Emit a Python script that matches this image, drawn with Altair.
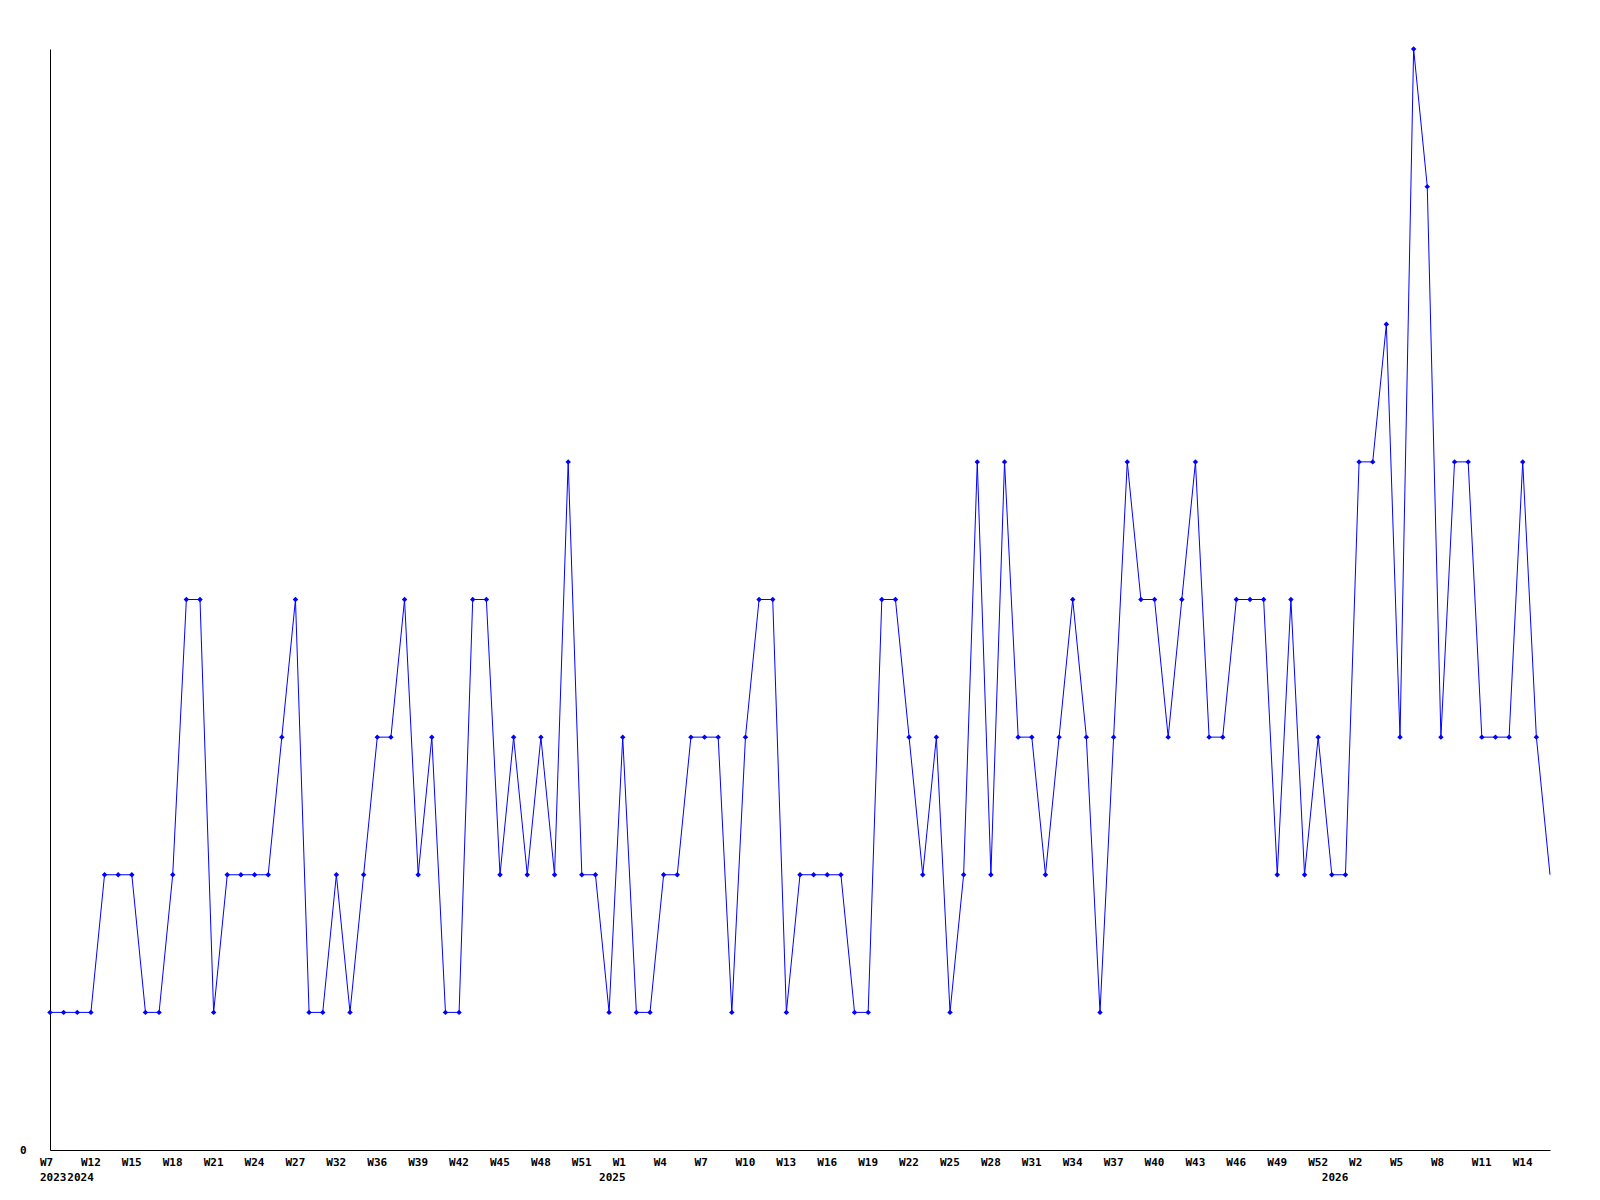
import altair as alt
import pandas as pd

# weekly counts, one value per point (left to right)
values = [
    1, 1, 1, 1, 2, 2, 2, 1, 1, 2,
    4, 4, 1, 2, 2, 2, 2, 3, 4, 1,
    1, 2, 1, 2, 3, 3, 4, 2, 3, 1,
    1, 4, 4, 2, 3, 2, 3, 2, 5, 2,
    2, 1, 3, 1, 1, 2, 2, 3, 3, 3,
    1, 3, 4, 4, 1, 2, 2, 2, 2, 1,
    1, 4, 4, 3, 2, 3, 1, 2, 5, 2,
    5, 3, 3, 2, 3, 4, 3, 1, 3, 5,
    4, 4, 3, 4, 5, 3, 3, 4, 4, 4,
    2, 4, 2, 3, 2, 2, 5, 5, 6, 3,
    8, 7, 3, 5, 5, 3, 3, 3, 5, 3, 2,
]

# week tick labels, one for every third point
week_labels = [
    "W7", "W12", "W15", "W18", "W21", "W24", "W27", "W32", "W36", "W39",
    "W42", "W45", "W48", "W51", "W1", "W4", "W7", "W10", "W13", "W16",
    "W19", "W22", "W25", "W28", "W31", "W34", "W37", "W40", "W43", "W46",
    "W49", "W52", "W2", "W5", "W8", "W11", "W14",
]

# year labels and the point index where each year starts
year_labels = ["2023", "2024", "2025", "2026"]
year_index = [0, 2, 41, 94]

df = pd.DataFrame({"i": list(range(len(values))), "v": values})
df_pts = df.iloc[:-1]
df_weeks = pd.DataFrame({"i": [3 * k for k in range(len(week_labels))], "label": week_labels})
df_years = pd.DataFrame({"i": year_index, "label": year_labels})

W = 1500
H = 1101
FONT = "DejaVu Sans Mono"
n = len(values) - 1

xscale = alt.Scale(domain=[0, n], nice=False, zero=False)
yscale = alt.Scale(domain=[0, 8], nice=False)

xaxis = alt.Axis(
    labels=False,
    title=None,
    ticks=False,
    grid=False,
    domainColor="black",
    domainWidth=1,
)

yaxis = alt.Axis(
    values=[0],
    format="d",
    title=None,
    ticks=False,
    grid=False,
    domainColor="black",
    domainWidth=1,
    labelPadding=24,
    labelFont=FONT,
    labelFontWeight="bold",
    labelFontSize=11,
    labelColor="black",
)

line = alt.Chart(df).mark_line(color="#0000ff", strokeWidth=1).encode(
    x=alt.X("i:Q", scale=xscale, axis=xaxis),
    y=alt.Y("v:Q", scale=yscale, axis=yaxis),
)

pts = alt.Chart(df_pts).mark_point(
    shape="diamond", filled=True, size=30, color="#0000ff", opacity=1
).encode(
    x=alt.X("i:Q", scale=xscale),
    y=alt.Y("v:Q", scale=yscale),
)

weeks = alt.Chart(df_weeks).mark_text(
    align="left", baseline="alphabetic", dx=-10,
    font=FONT, fontWeight="bold", fontSize=11, color="black",
).encode(
    x=alt.X("i:Q", scale=xscale),
    y=alt.value(H + 16),
    text="label:N",
)

years = alt.Chart(df_years).mark_text(
    align="left", baseline="alphabetic", dx=-10,
    font=FONT, fontWeight="bold", fontSize=11, color="black",
).encode(
    x=alt.X("i:Q", scale=xscale),
    y=alt.value(H + 31),
    text="label:N",
)

chart = alt.layer(line, pts, weeks, years).properties(
    width=W,
    height=H,
    background="white",
    autosize=alt.AutoSizeParams(type="none"),
    padding={"left": 42, "top": 41, "right": 40, "bottom": 50},
).configure_view(stroke="transparent", strokeWidth=0)

chart.save("out.html", embed_options={"renderer": "svg", "actions": False})
